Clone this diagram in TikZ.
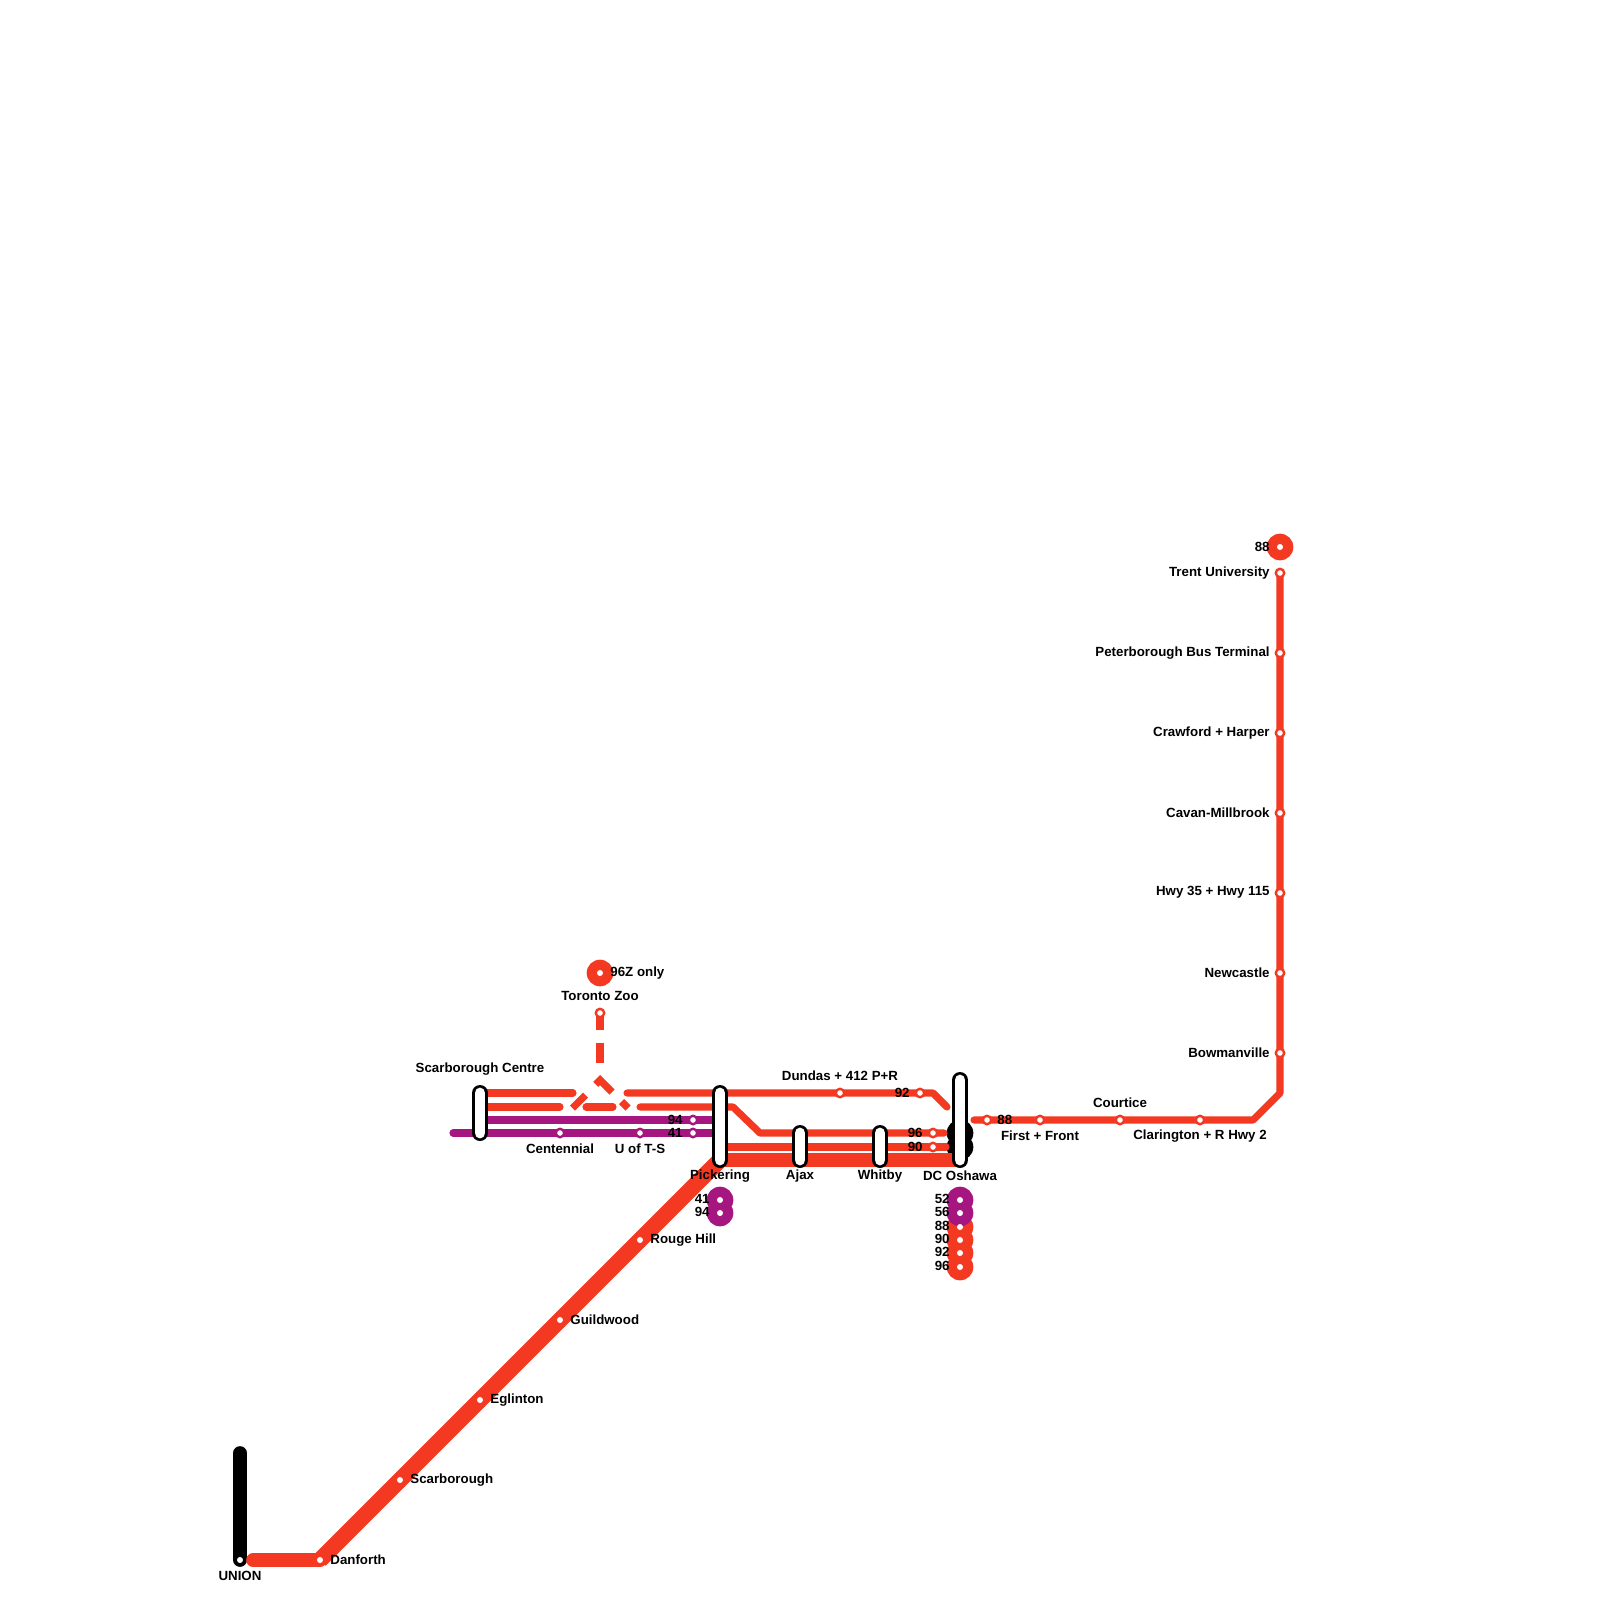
\documentclass[tikz,border=0pt]{standalone}
\usepackage{fontspec}
\setmainfont{Liberation Sans}
\definecolor{rl}{HTML}{F33921}
\definecolor{pl}{HTML}{A61680}
\tikzset{
 x=0.5pt,y=-0.5pt,
 thin line/.style={line width=3.55pt,line cap=round,line join=round},
 thick line/.style={line width=6.85pt,line cap=round,line join=round},
 redl/.style={thin line,draw=rl},
 purl/.style={thin line,draw=pl},
 ringr/.style={circle,draw=rl,fill=white,line width=1.2pt,minimum size=4.2pt,inner sep=0pt},
 ringp/.style={circle,draw=pl,fill=white,line width=1.2pt,minimum size=4.2pt,inner sep=0pt},
 dot/.style={circle,fill=white,draw=none,minimum size=3pt,inner sep=0pt},
 termr/.style={circle,fill=rl,draw=none,minimum size=13.33pt,inner sep=0pt},
 termp/.style={circle,fill=pl,draw=none,minimum size=13.33pt,inner sep=0pt},
 termk/.style={circle,fill=black,draw=none,minimum size=13.33pt,inner sep=0pt},
 lab/.style={font=\bfseries\fontsize{6.65pt}{8pt}\selectfont,inner sep=0pt,text=black,yshift=-0.6pt},
 pillout/.style={line width=8pt,line cap=round,draw=black},
 pillin/.style={line width=5.4pt,line cap=round,draw=white},
}
\begin{document}
\begin{tikzpicture}
\useasboundingbox (0,0) rectangle (1600,1600);
\fill[white] (0,0) rectangle (1600,1600);
% way points
\coordinate (ub) at (240,1453); \coordinate (un) at (240,1560);
\coordinate (rs) at (253,1560); \coordinate (da) at (320,1560);
\coordinate (pk3) at (720,1160); \coordinate (dc3) at (960,1160);
\coordinate (pk2) at (720,1147); \coordinate (dc2) at (946,1147);
\coordinate (w1a) at (733,1107); \coordinate (w1b) at (760,1133); \coordinate (dc1) at (944,1133);
\coordinate (t1) at (933,1093); \coordinate (t2) at (947,1107);
\coordinate (e1) at (974,1120); \coordinate (e2) at (1253,1120); \coordinate (e3) at (1280,1093);
\coordinate (sa1) at (480,1093); \coordinate (sa2) at (480,1107);
\coordinate (sa3) at (480,1120); \coordinate (sa4) at (480,1133);
\coordinate (p3) at (720,1120); \coordinate (p4) at (720,1133);
\coordinate (pstart) at (453,1133);
\coordinate (j) at (600,1080);
% black interchange blob
\node[termk] (k1) at (960,1133) {};
\node[termk] (k2) at (960,1147) {};
% lines
\draw[line width=6.85pt,line cap=round,draw=black] (ub) -- (un);
\draw[line width=8pt,draw=rl] (da) -- (pk3);
\draw[thick line,draw=rl] (rs) -- (da);
\draw[line width=6.85pt,line cap=butt,draw=rl] (pk3) -- (dc3);
\draw[redl] (pk2) -- (dc2);
\draw[redl] (sa1) -- (573,1093);
\draw[redl] (627,1093) -- (t1) -- (t2);
\draw[redl] (sa2) -- (560,1107);
\draw[redl] (586,1107) -- (613,1107);
\draw[redl] (640,1107) -- (w1a) -- (w1b) -- (dc1);
\draw[redl] (e1) -- (e2) -- (e3) -- (1280,573);
\draw[purl] (sa3) -- (p3);
\draw[purl] (pstart) -- (p4);
% dashed Zoo branch
\begin{scope}[line width=3.55pt]
\draw[rl] (600,1013) -- (600,1030);
\draw[rl] (600,1043) -- (600,1063);
\draw[rl,line join=miter] (595.7,1084.3) -- (j) -- (612,1092);
\draw[rl] (585.5,1095) -- (572.5,1108);
\draw[rl] (621.5,1101.5) -- (628,1108);
\end{scope}
% pills
\foreach \n/\px/\a/\b in {sc/480/1093/1133,pk/720/1093/1160,aj/800/1133/1160,wh/880/1133/1160,dc/960/1080/1160}{
 \draw[pillout] (\px,\a) -- (\px,\b);
 \draw[pillin] (\px,\a) -- (\px,\b);
}
% termini
\node[termr] (z96) at (600,973) {};
\node[termr] (t88) at (1280,547) {};
\node[termr] (d96) at (960,1267) {};
\node[termr] (d92) at (960,1253) {};
\node[termr] (d90) at (960,1240) {};
\node[termr] (d88) at (960,1227) {};
\node[termp] (d56) at (960,1213) {};
\node[termp] (d52) at (960,1200) {};
\node[termp] (p94) at (720,1213) {};
\node[termp] (p41) at (720,1200) {};
\foreach \c in {z96,t88,d96,d92,d90,d88,d56,d52,p94,p41}{\node[dot] at (\c) {};}
% dots on thick lines
\node[dot] (n1) at (un) {};
\node[dot] (n2) at (da) {};
\foreach \i/\px/\py in {a/400/1480,b/480/1400,c/560/1320,d/640/1240}{\node[dot] (s\i) at (\px,\py) {};}
% rings
\foreach \i/\px/\py in {a/600/1013,b/1280/573,c/1280/653,d/1280/733,e/1280/813,f/1280/893,g/1280/973,h/1280/1053,i/1200/1120,j/1120/1120,k/1040/1120,l/987/1120,m/920/1093,n/840/1093,o/933/1133,p/933/1147}{\node[ringr] (r\i) at (\px,\py) {};}
\foreach \i/\px/\py in {a/560/1133,b/640/1133,c/693/1120,d/693/1133}{\node[ringp] (q\i) at (\px,\py) {};}
% labels
\node[lab] (l01) at (240,1575) {UNION};
\node[lab,anchor=west] (l02) at (330,1558.5) {Danforth};
\node[lab,anchor=west] (l03) at (410,1478.5) {Scarborough};
\node[lab,anchor=west] (l04) at (490,1398.5) {Eglinton};
\node[lab,anchor=west] (l05) at (570,1318.5) {Guildwood};
\node[lab,anchor=west] (l06) at (650,1238.5) {Rouge Hill};
\node[lab] (l07) at (720,1175) {Pickering};
\node[lab] (l08) at (800,1175) {Ajax};
\node[lab] (l09) at (880,1175) {Whitby};
\node[lab] (l10) at (960,1174.5) {DC Oshawa};
\node[lab] (l11) at (480,1068) {Scarborough Centre};
\node[lab] (l12) at (560,1147.5) {Centennial};
\node[lab] (l13) at (640,1147.5) {U of T-S};
\node[lab] (l14) at (600,995) {Toronto Zoo};
\node[lab,anchor=west] (l15) at (610,972) {96Z only};
\node[lab] (l16) at (840,1075) {Dundas + 412 P+R};
\node[lab] (l17) at (1120,1102) {Courtice};
\node[lab] (l18) at (1040,1135) {First + Front};
\node[lab] (l19) at (1200,1135) {Clarington + R Hwy 2};
\node[lab,anchor=west] (l20) at (997,1119) {88};
\node[lab,anchor=east] (l21) at (910,1091.5) {92};
\node[lab,anchor=east] (l22) at (923,1131.5) {96};
\node[lab,anchor=east] (l23) at (923,1145.5) {90};
\node[lab,anchor=east] (l24) at (683,1118.5) {94};
\node[lab,anchor=east] (l25) at (683,1131.5) {41};
\node[lab,anchor=east] (l26) at (710,1198) {41};
\node[lab,anchor=east] (l27) at (710,1211) {94};
\node[lab,anchor=east] (l28) at (950,1198) {52};
\node[lab,anchor=east] (l29) at (950,1211) {56};
\node[lab,anchor=east] (l30) at (950,1225) {88};
\node[lab,anchor=east] (l31) at (950,1238) {90};
\node[lab,anchor=east] (l32) at (950,1251) {92};
\node[lab,anchor=east] (l33) at (950,1265) {96};
\node[lab,anchor=east] (l34) at (1270,545.5) {88};
\node[lab,anchor=east] (l35) at (1270,572) {Trent University};
\node[lab,anchor=east] (l36) at (1270,652) {Peterborough Bus Terminal};
\node[lab,anchor=east] (l37) at (1270,732) {Crawford + Harper};
\node[lab,anchor=east] (l38) at (1270,811.5) {Cavan-Millbrook};
\node[lab,anchor=east] (l39) at (1270,891.5) {Hwy 35 + Hwy 115};
\node[lab,anchor=east] (l40) at (1270,971.5) {Newcastle};
\node[lab,anchor=east] (l41) at (1270,1051.5) {Bowmanville};
\end{tikzpicture}
\end{document}
